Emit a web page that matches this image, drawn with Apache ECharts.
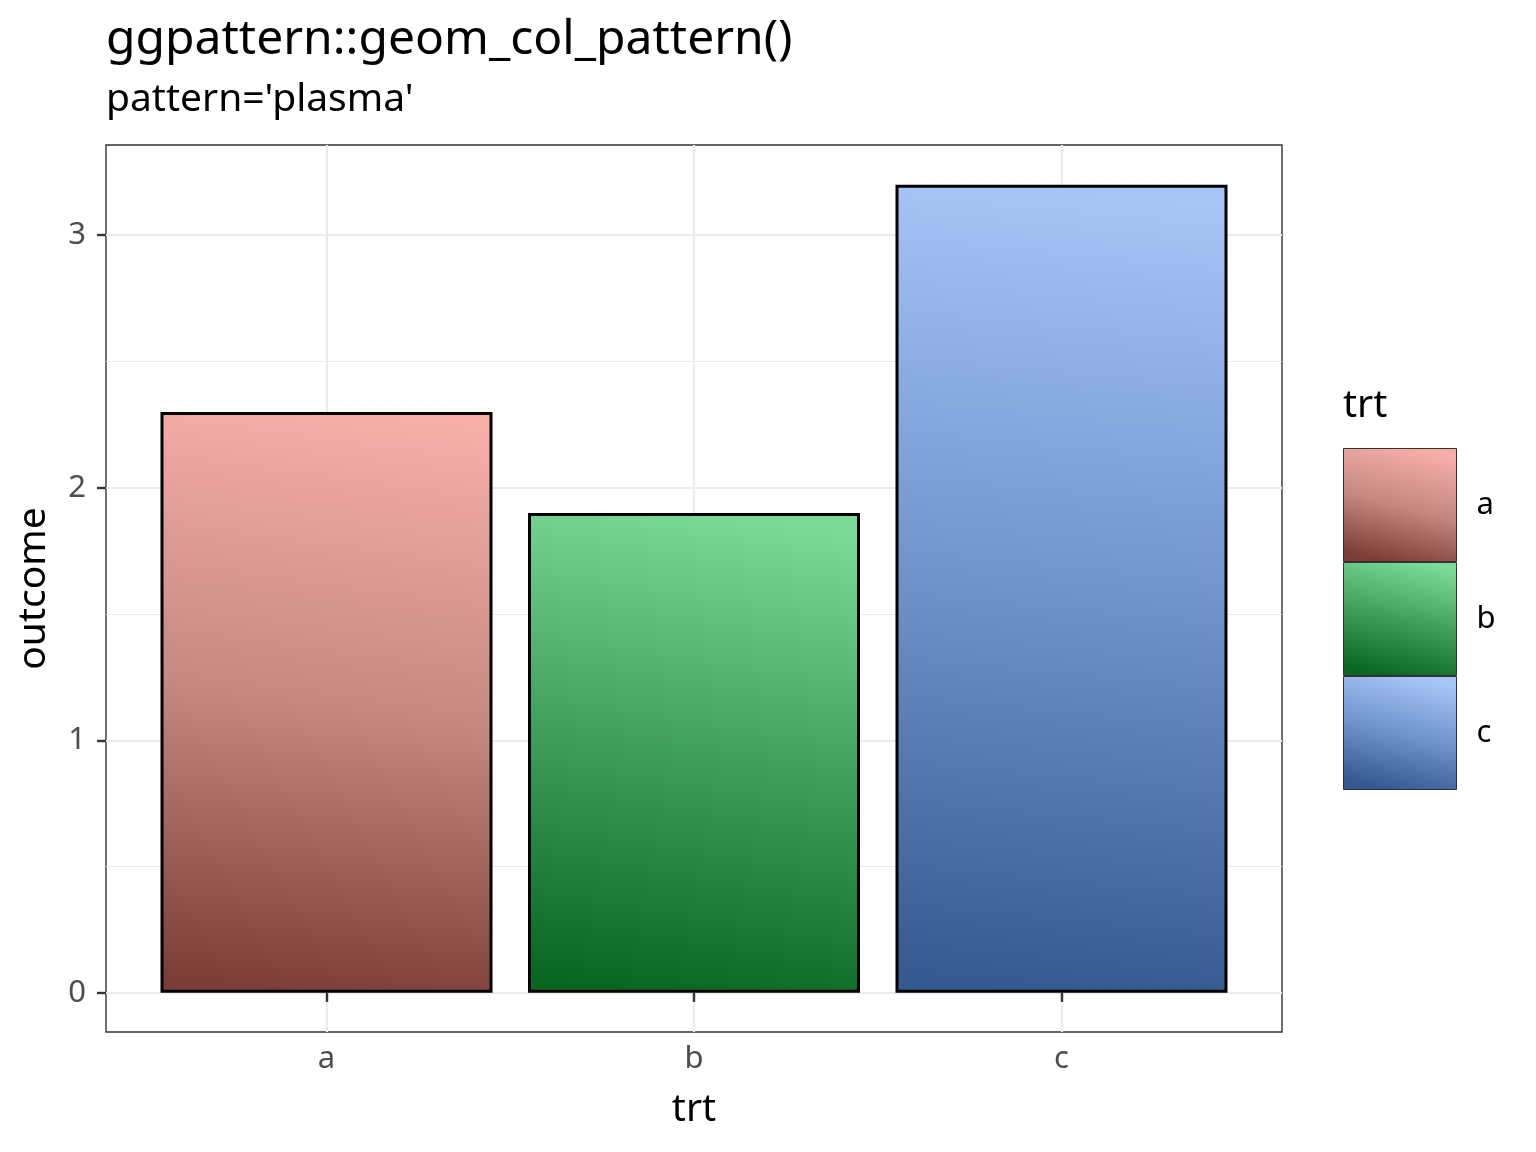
<!DOCTYPE html>
<html>
<head>
<meta charset="utf-8">
<script src="https://cdn.jsdelivr.net/npm/echarts@6/dist/echarts.min.js"></script>
<style>
html,body{margin:0;padding:0;background:#fff;}
#chart{width:1536px;height:1152px;}
</style>
</head>
<body>
<div id="chart"></div>
<script>
const categories = ['a', 'b', 'c'];
const outcome = [2.3, 1.9, 3.2];
const yMajorTicks = [0, 1, 2, 3];
const yMinorTicks = [0.5, 1.5, 2.5];
const xTicks = [1, 2, 3];
const gradientStops = {
  a: ['#f7aea9', '#c58883', '#7c3d37'],
  b: ['#7bda97', '#3f9f5c', '#0a6722'],
  c: ['#a7c6f8', '#7093cc', '#365891']
};

const FONT = 'Noto Sans';
function grad(cols) {
  return new echarts.graphic.LinearGradient(0.62, 0, 0.38, 1, [
    { offset: 0, color: cols[0] },
    { offset: 0.5, color: cols[1] },
    { offset: 1, color: cols[2] }
  ]);
}

const chart = echarts.init(document.getElementById('chart'), null, { renderer: 'canvas' });

const series = categories.map((cat, i) => ({
  name: cat,
  type: 'bar',
  data: [[i + 1, outcome[i]]],
  barWidth: 332,
  barGap: '-100%',
  itemStyle: { color: grad(gradientStops[cat]), borderColor: '#000', borderWidth: 3 },
  emphasis: { disabled: true },
  silent: true,
  z: 3
}));

chart.setOption({
  animation: false,
  backgroundColor: '#fff',
  title: {
    text: 'ggpattern::geom_col_pattern()',
    subtext: "pattern='plasma'",
    left: 101,
    top: 11,
    padding: [5, 5, 5, 5],
    itemGap: 16,
    textStyle: { fontFamily: FONT, fontSize: 48, fontWeight: 'normal', color: '#000' },
    subtextStyle: { fontFamily: FONT, fontSize: 39, color: '#000' }
  },
  grid: {
    left: 106, right: 254, top: 145, bottom: 120,
    show: true, borderColor: '#333', borderWidth: 1.4, backgroundColor: '#fff'
  },
  legend: {
    orient: 'vertical',
    left: 1343,
    top: 448,
    padding: 0,
    itemWidth: 113,
    itemHeight: 113,
    itemGap: 0,
    icon: 'rect',
    itemStyle: { borderColor: '#333', borderWidth: 1 },
    textStyle: { fontFamily: FONT, fontSize: 31, color: '#000', padding: [0, 0, 0, 15] },
    data: categories,
    selectedMode: false
  },
  graphic: [{
    type: 'text',
    left: 1343,
    top: 386,
    style: { text: 'trt', font: '39px "Noto Sans"', fill: '#000' }
  }],
  xAxis: {
    type: 'value',
    min: 0.4,
    max: 3.6,
    name: 'trt',
    nameLocation: 'middle',
    nameGap: 58,
    nameTextStyle: { fontFamily: FONT, fontSize: 39, color: '#000' },
    axisLine: { show: false },
    axisTick: { show: true, length: 9, lineStyle: { color: '#333', width: 2.4 }, customValues: xTicks },
    axisLabel: {
      customValues: xTicks,
      margin: 12,
      fontFamily: FONT, fontSize: 31, color: '#4d4d4d',
      formatter: v => categories[Math.round(v) - 1] || ''
    },
    splitLine: { show: true, lineStyle: { color: '#ebebeb', width: 2.2 } }
  },
  yAxis: [{
    type: 'value',
    min: -0.155,
    max: 3.357,
    name: 'outcome',
    nameLocation: 'middle',
    nameGap: 53,
    nameTextStyle: { fontFamily: FONT, fontSize: 39, color: '#000' },
    axisLine: { show: false },
    axisTick: { show: true, length: 9, lineStyle: { color: '#333', width: 2.4 }, customValues: yMajorTicks },
    axisLabel: {
      customValues: yMajorTicks,
      margin: 20,
      fontFamily: FONT, fontSize: 31, color: '#4d4d4d'
    },
    splitLine: { show: true, lineStyle: { color: '#ebebeb', width: 2.2 } }
  }, {
    type: 'value',
    min: -0.155,
    max: 3.357,
    position: 'left',
    axisLine: { show: false },
    axisTick: { show: false, customValues: yMinorTicks },
    axisLabel: { show: false, customValues: yMinorTicks },
    splitLine: { show: true, lineStyle: { color: '#ebebeb', width: 1.1 } }
  }],
  series: series
});
</script>
</body>
</html>
